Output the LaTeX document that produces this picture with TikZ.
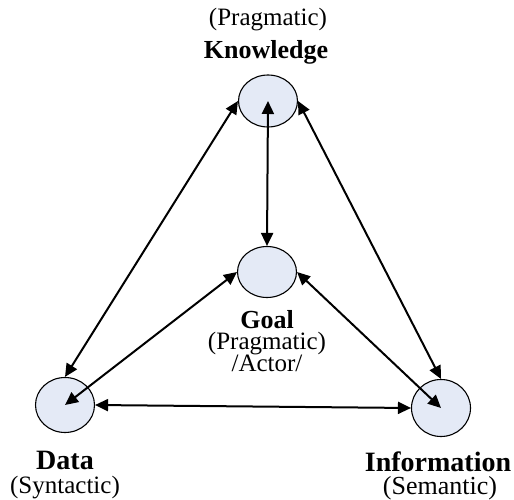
\documentclass[tikz,border=0pt]{standalone}
\usepackage{fontspec}
\setmainfont{Liberation Serif}
\usetikzlibrary{arrows.meta,shapes.geometric}
\definecolor{circfill}{RGB}{228,234,246}
\tikzset{
  circ/.style={ellipse,draw=black,line width=1.1pt,fill=circfill,minimum width=59pt,minimum height=54pt,inner sep=0pt},
  conn/.style={line width=2pt,{Triangle[length=13pt,width=12pt]}-{Triangle[length=13pt,width=12pt]}},
  lbl/.style={anchor=base,inner sep=0pt},
}
\begin{document}
\begin{tikzpicture}[x=1pt,y=-1pt]
\useasboundingbox (0,0) rectangle (514,500);
% circles
\node[circ,minimum height=52pt] (K) at (268,101) {};
\node[circ,minimum height=51pt] (G) at (267,272) {};
\node[circ,minimum height=55pt] (D) at (65,405) {};
\node[circ,minimum height=57pt] (I) at (441,408) {};
% labels
\node[lbl,font=\fontsize{25}{30}\selectfont] (kp) at (268,26) {(Pragmatic)};
\node[lbl,font=\fontsize{26}{30}\bfseries] (kl) at (266,59) {Knowledge};
\node[lbl,font=\fontsize{26}{30}\bfseries] (gl) at (267,328) {Goal};
\node[lbl,font=\fontsize{25}{30}\selectfont] (gp) at (267,349) {(Pragmatic)};
\node[lbl,font=\fontsize{25}{30}\selectfont] (ga) at (267,371) {/Actor/};
\node[lbl,font=\fontsize{28}{30}\bfseries] (dl) at (65,469) {Data};
\node[lbl,font=\fontsize{25}{30}\selectfont] (ds) at (65,493) {(Syntactic)};
\node[lbl,font=\fontsize{28}{30}\bfseries] (il) at (438,471) {Information};
\node[lbl,font=\fontsize{26}{30}\selectfont] (is) at (440,494) {(Semantic)};
% connectors
\draw[conn] (K.center) -- (G.north);
\draw[conn] (K.west) -- (D.north);
\draw[conn] (K.east) -- (I.north);
\draw[conn] (D.center) -- (G.west);
\draw[conn] (G.east) -- (I.center);
\draw[conn] (D.east) -- (I.west);
\end{tikzpicture}
\end{document}
